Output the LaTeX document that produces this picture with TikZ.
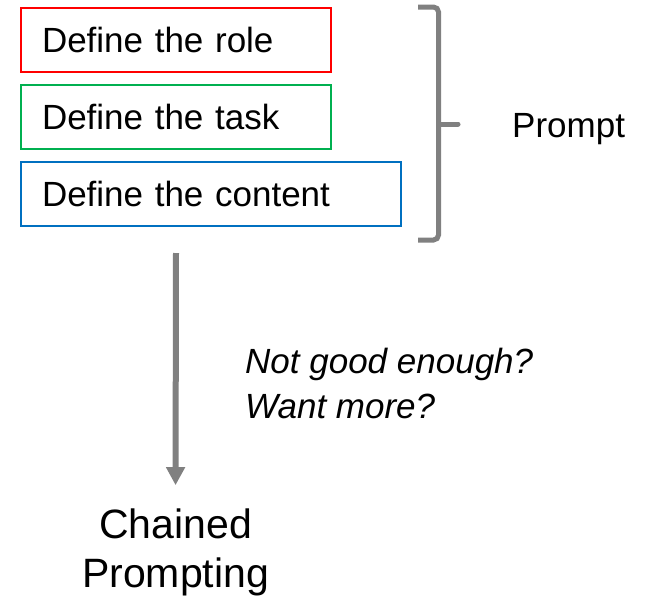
\documentclass[tikz,border=0pt]{standalone}
\usepackage{fontspec}
\setmainfont{Liberation Sans}
\usetikzlibrary{positioning, arrows.meta}
\definecolor{pptred}{RGB}{255,0,0}
\definecolor{pptgreen}{RGB}{0,176,80}
\definecolor{pptblue}{RGB}{0,112,192}
\definecolor{pptgray}{RGB}{128,128,128}
\tikzset{dbox/.style={draw=#1, line width=2pt, anchor=north west, minimum height=64pt, inner xsep=21pt, inner ysep=0pt, align=left, font=\fontsize{35}{42}\selectfont}}
\tikzset{dtext/.style={inner sep=0pt, font=\fontsize{35}{45}\selectfont}}
\tikzset{brace/.style={draw=pptgray, line width=5pt, rounded corners=5pt}}
\tikzset{flow/.style={draw=pptgray, line width=6pt, -{Triangle[width=18pt,length=18pt]}, pptgray}}

\begin{document}
\begin{tikzpicture}[x=1pt, y=-1pt]
   \useasboundingbox (0,0) rectangle (645,597);
   \node[dbox=pptred, text width=268pt] (role) at (20,7) {Define the role};
   \node[dbox=pptgreen, text width=268pt, below=11pt of role.south west, anchor=north west] (task) {Define the task};
   \node[dbox=pptblue, text width=338pt, below=11pt of task.south west, anchor=north west] (content) {Define the content};
   % brace round the three boxes
   \draw[brace] (418,7) -- (438.5,7) -- (438.5,240) -- (418,240);
   \draw[brace, line cap=round] (438.5,124) -- (458,124);
   \node[dtext, anchor=base west] (prompt) at (512,137) {Prompt};
   \coordinate (src) at (176,253);
   \node[inner sep=0pt, align=center, font=\fontsize{41}{49}\selectfont] (chain) at (175.5,552) {Chained\\Prompting};
   \draw[flow, shorten >=23pt] (src) -- (chain.north);
   \node[dtext, align=left, anchor=north west, font=\fontsize{35}{45}\selectfont\itshape] (ask) at (245,347.5)
       {Not good enough?\\Want more?};
\end{tikzpicture}
\end{document}
